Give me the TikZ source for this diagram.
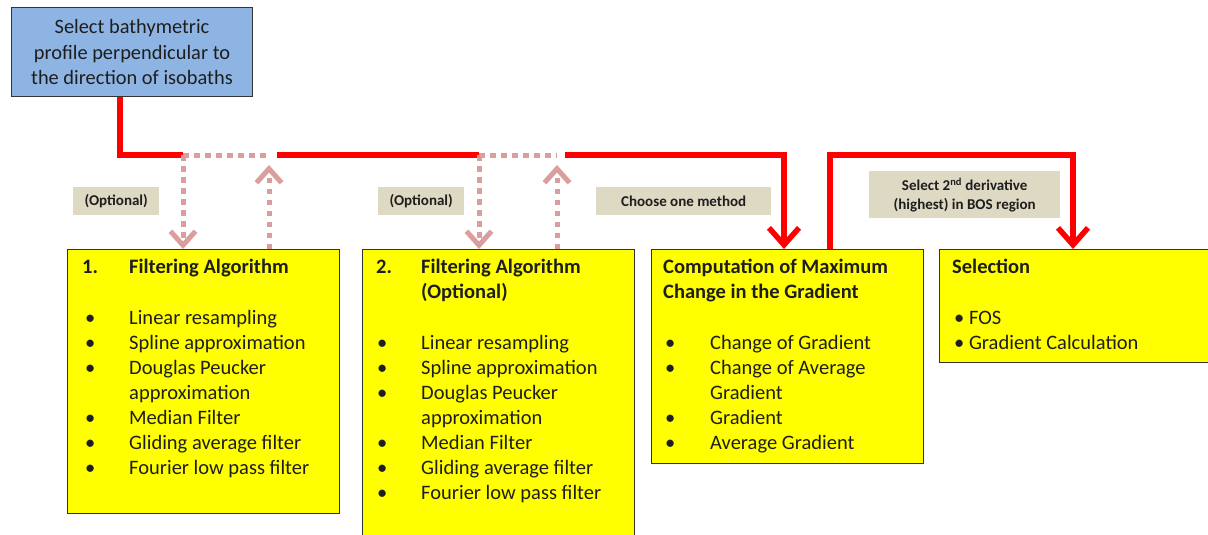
\documentclass[tikz,border=0pt]{standalone}
\usepackage{fontspec}
\setmainfont{Carlito}
\usetikzlibrary{arrows.meta}
\definecolor{boxyellow}{RGB}{255,255,0}
\definecolor{topblue}{RGB}{142,180,227}
\definecolor{labeltan}{RGB}{221,217,195}
\definecolor{arrred}{RGB}{255,0,0}
\definecolor{pinkdot}{RGB}{218,158,158}
\definecolor{textdark}{RGB}{30,30,30}
\newcommand{\bodyfont}{\fontsize{20.5}{25}\selectfont}
\newcommand{\labfont}{\bfseries\fontsize{15}{19}\selectfont}
\tikzset{
  ybox/.style={draw=black!80, line width=1.2pt, fill=boxyellow, inner sep=0pt, anchor=north west},
  tbox/.style={anchor=north west, inner sep=0pt, font=\bodyfont, text=textdark},
  labelbox/.style={fill=labeltan, inner sep=0pt, anchor=north west, font=\labfont, text=textdark},
  redline/.style={draw=arrred, line width=5.5pt},
  redarrow/.style={redline, -{Straight Barb[length=17pt,width=30pt]}},
  pinkline/.style={draw=pinkdot, line width=5pt, dash pattern=on 5.5pt off 5.5pt},
  pinkarrow/.style={pinkline, -{Straight Barb[length=14pt,width=25pt]}},
}
\begin{document}
\begin{tikzpicture}[x=1pt,y=-1pt]
\useasboundingbox (0,0) rectangle (1208,535);

% top box
\node[draw=black!80, line width=1pt, fill=topblue, minimum width=241pt, minimum height=89pt, anchor=north west, inner sep=0pt] (top) at (11,7) {};
\node[align=center, font=\fontsize{20.4}{25.5}\selectfont, text=textdark, inner sep=0pt] (toptext) at (top.center) {Select bathymetric\\profile perpendicular to\\the direction of isobaths};

% yellow boxes
\node[ybox, minimum width=272pt, minimum height=264pt] (f1) at (67,249) {};
\node[ybox, minimum width=272pt, minimum height=292pt] (f2) at (362,249) {};
\node[ybox, minimum width=272pt, minimum height=214pt] (cg) at (651,249) {};
\node[ybox, minimum width=276pt, minimum height=113pt] (sel) at (939,249) {};

% box texts
\node[tbox] (t1) at (82,256) {\begin{tabular}{@{}p{47pt}@{}l@{}}
\textbf{1.} & \textbf{Filtering Algorithm}\\[1pt]
 & \\
\hspace{3pt}\textbullet & Linear resampling\\
\hspace{3pt}\textbullet & Spline approximation\\
\hspace{3pt}\textbullet & Douglas Peucker\\
 & approximation\\
\hspace{3pt}\textbullet & Median Filter\\
\hspace{3pt}\textbullet & Gliding average filter\\
\hspace{3pt}\textbullet & Fourier low pass filter
\end{tabular}};

\node[tbox] (t2) at (376,256) {\begin{tabular}{@{}p{45pt}@{}l@{}}
\textbf{2.} & \textbf{Filtering Algorithm}\\
 & \textbf{(Optional)}\\[1pt]
 & \\
\hspace{1pt}\textbullet & Linear resampling\\
\hspace{1pt}\textbullet & Spline approximation\\
\hspace{1pt}\textbullet & Douglas Peucker\\
 & approximation\\
\hspace{1pt}\textbullet & Median Filter\\
\hspace{1pt}\textbullet & Gliding average filter\\
\hspace{1pt}\textbullet & Fourier low pass filter
\end{tabular}};

\node[tbox] (t3) at (663,256) {\begin{tabular}{@{}p{47pt}@{}l@{}}
\multicolumn{2}{@{}l@{}}{\textbf{Computation of Maximum}}\\
\multicolumn{2}{@{}l@{}}{\textbf{Change in the Gradient}}\\[1pt]
 & \\
\hspace{2pt}\textbullet & Change of Gradient\\
\hspace{2pt}\textbullet & Change of Average\\
 & Gradient\\
\hspace{2pt}\textbullet & Gradient\\
\hspace{2pt}\textbullet & Average Gradient
\end{tabular}};

\node[tbox] (t4) at (952,256) {\begin{tabular}{@{}l@{}}
\textbf{Selection}\\[1pt]
\\
\hspace{2pt}\textbullet\ FOS\\
\hspace{2pt}\textbullet\ Gradient Calculation
\end{tabular}};

% labels
\node[labelbox, minimum width=86pt, minimum height=28pt] (o1) at (73,187) {};
\node[font=\labfont, text=textdark, inner sep=0pt] (o1t) at (o1.center) {(Optional)};
\node[labelbox, minimum width=86pt, minimum height=28pt] (o2) at (378,187) {};
\node[font=\labfont, text=textdark, inner sep=0pt] (o2t) at (o2.center) {(Optional)};
\node[labelbox, minimum width=175pt, minimum height=28pt] (ch) at (596,187) {};
\node[font=\labfont, text=textdark, inner sep=0pt] (cht) at (ch.center) {Choose one method};
\node[labelbox, minimum width=191pt, minimum height=47pt] (sd) at (869,171) {};
\node[font=\labfont, text=textdark, inner sep=0pt, align=center] (sdt) at (sd.center) {Select 2\textsuperscript{nd} derivative\\(highest) in BOS region};

% junction coordinates
\coordinate (j0) at (120,155);
\coordinate (d1) at (183,155);
\coordinate (u1) at (269,165);
\coordinate (u1h) at (269,155);
\coordinate (r1) at (277,155);
\coordinate (d2) at (479,155);
\coordinate (u2) at (557,165);
\coordinate (u2h) at (557,155);
\coordinate (r2) at (565,155);
\coordinate (c1) at (784,155);
\coordinate (c2) at (830,155);
\coordinate (c3) at (1073,155);

% red connectors
\draw[redline] (top.south -| j0) -- (j0) -- (d1);
\draw[redline] (r1) -- (d2);
\draw[redarrow] (r2) -- (c1) -- (c1 |- cg.north);
\draw[redarrow] (c2 |- cg.north) -- (c2) -- (c3) -- (c3 |- sel.north);

% pink dotted connectors
\draw[pinkline] (d1) -- (u1h);
\draw[pinkarrow] (d1) -- (d1 |- f1.north);
\draw[pinkarrow] (u1 |- f1.north) -- (u1);
\draw[pinkline] (d2) -- (u2h);
\draw[pinkarrow] (d2) -- (d2 |- f2.north);
\draw[pinkarrow] (u2 |- f2.north) -- (u2);
\end{tikzpicture}
\end{document}
